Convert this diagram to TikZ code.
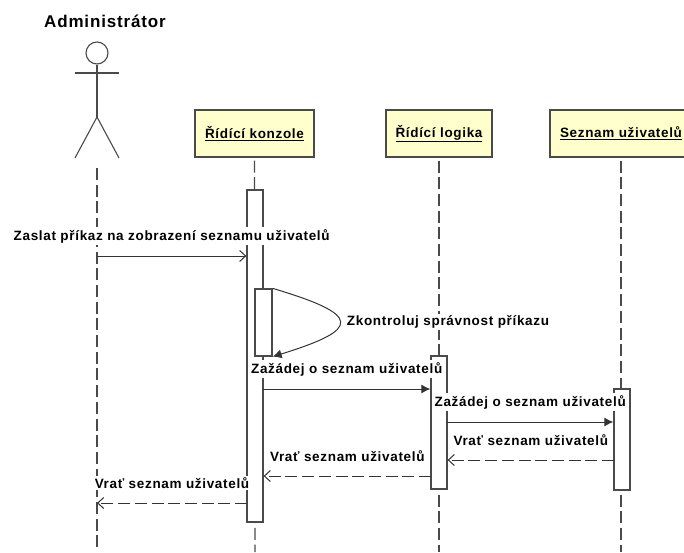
\documentclass[tikz,border=0pt]{standalone}
\usepackage{fontspec}
\setmainfont[LetterSpace=5]{Liberation Sans}
\usetikzlibrary{shapes, arrows.meta, positioning}
\tikzstyle{objbox} = [draw=linegray, fill=boxyellow, rectangle, line width=1.3pt, minimum height=47pt, inner sep=0pt]
\tikzstyle{activ} = [draw=linegray, fill=white, rectangle, line width=1.3pt, minimum width=16pt, inner sep=0pt]
\tikzstyle{life} = [draw=linegray, line width=1.2pt, dash pattern=on 12pt off 4.7pt]
\tikzstyle{limb} = [draw=linegray, line width=1.1pt]
\tikzstyle{msg} = [midway, yshift=20pt, fill=white, inner xsep=1pt, inner ysep=2pt, text=black]
\tikzstyle{call} = [draw=black!80, line width=1pt, -{Latex[length=9pt,width=9pt]}]
\tikzstyle{send} = [draw=black!80, line width=1pt, -{Straight Barb[length=6pt,width=11pt]}]
\tikzstyle{reply} = [draw=black!80, line width=1pt, dash pattern=on 12pt off 4.7pt, -{Straight Barb[length=6pt,width=11pt]}]
\definecolor{boxyellow}{HTML}{FFFFCC}
\definecolor{linegray}{HTML}{4A4A4A}
\newcommand{\lbl}{\fontsize{13.5pt}{15pt}\selectfont\bfseries}

\begin{document}
\begin{tikzpicture}[>=latex,x=1pt,y=-1pt,font=\lbl]
    \useasboundingbox (0,0) rectangle (684,552);
    \node [font=\fontsize{17pt}{19pt}\selectfont\bfseries] at (105,21) (adminlabel) {Administrátor};
    % actor
    \node [draw=linegray, line width=1.1pt, circle, minimum size=22pt, inner sep=0pt] at (97,53) (head) {};
    \coordinate (hip) at (97,117);
    \coordinate (armL) at (75,73);
    \coordinate (armR) at (119,73);
    \coordinate (footL) at (75,158);
    \coordinate (footR) at (119,158);
    \draw [limb] (head) -- (hip);
    \draw [limb] (armL) -- (armR);
    \draw [limb] (footL) -- (hip) -- (footR);

    \node [objbox, minimum width=119pt] at (254.5,133.5) (konzole) {\underline{Řídící konzole}};
    \node [objbox, minimum width=106pt, right of=konzole, node distance=184.5pt] (logika) {\underline{Řídící logika}};
    \node [objbox, minimum width=142pt, right of=logika, node distance=182pt] (seznam) {\underline{Seznam uživatelů}};

    % lifelines
    \coordinate (adminTop) at (97,168);
    \coordinate (adminEnd) at (97,552);
    \coordinate (konzoleEnd) at (255,552);
    \coordinate (logikaEnd) at (439,552);
    \coordinate (seznamEnd) at (621,552);
    \draw [life] (adminTop) -- (adminEnd);
    \draw [life] (konzole) ++(0,27) -- (konzoleEnd);
    \draw [life] (logika) ++(0,27) -- (logikaEnd);
    \draw [life] (seznam) ++(0,27) -- (seznamEnd);

    % activations
    \node [activ, minimum height=332pt] at (255,356) (akonzole) {};
    \node [activ, minimum width=17pt, minimum height=67pt] at (263.5,322.5) (acheck) {};
    \node [activ, minimum height=133pt] at (439,422.5) (alogika) {};
    \node [activ, minimum height=101pt] at (622,439.5) (aseznam) {};

    % messages
    \coordinate (m1a) at (97,256);
    \coordinate (m1b) at (akonzole.west |- m1a);
    \draw [send] (m1a) -- node [msg] (m1) {Zaslat příkaz na zobrazení seznamu uživatelů} (m1b);

    \draw [call] (acheck.north east) .. controls (362,315) and (362,329) .. (acheck.south east);
    \node [fill=white, inner xsep=1pt, inner ysep=2pt] at (448,322) (m2) {Zkontroluj správnost příkazu};

    \coordinate (m3a) at (263,389);
    \coordinate (m3b) at (alogika.west |- m3a);
    \draw [call] (m3a) -- node [msg] (m3) {Zažádej o seznam uživatelů} (m3b);

    \coordinate (m4a) at (447,422);
    \coordinate (m4b) at (aseznam.west |- m4a);
    \draw [call] (m4a) -- node [msg] (m4) {Zažádej o seznam uživatelů} (m4b);

    \coordinate (m5a) at (614,460);
    \coordinate (m5b) at (alogika.east |- m5a);
    \draw [reply] (m5a) -- node [msg] (m5) {Vrať seznam uživatelů} (m5b);

    \coordinate (m6a) at (431,476);
    \coordinate (m6b) at (akonzole.east |- m6a);
    \draw [reply] (m6a) -- node [msg] (m6) {Vrať seznam uživatelů} (m6b);

    \coordinate (m7a) at (247,503);
    \coordinate (m7b) at (97,503);
    \draw [reply] (m7a) -- node [msg] (m7) {Vrať seznam uživatelů} (m7b);
\end{tikzpicture}
\end{document}
